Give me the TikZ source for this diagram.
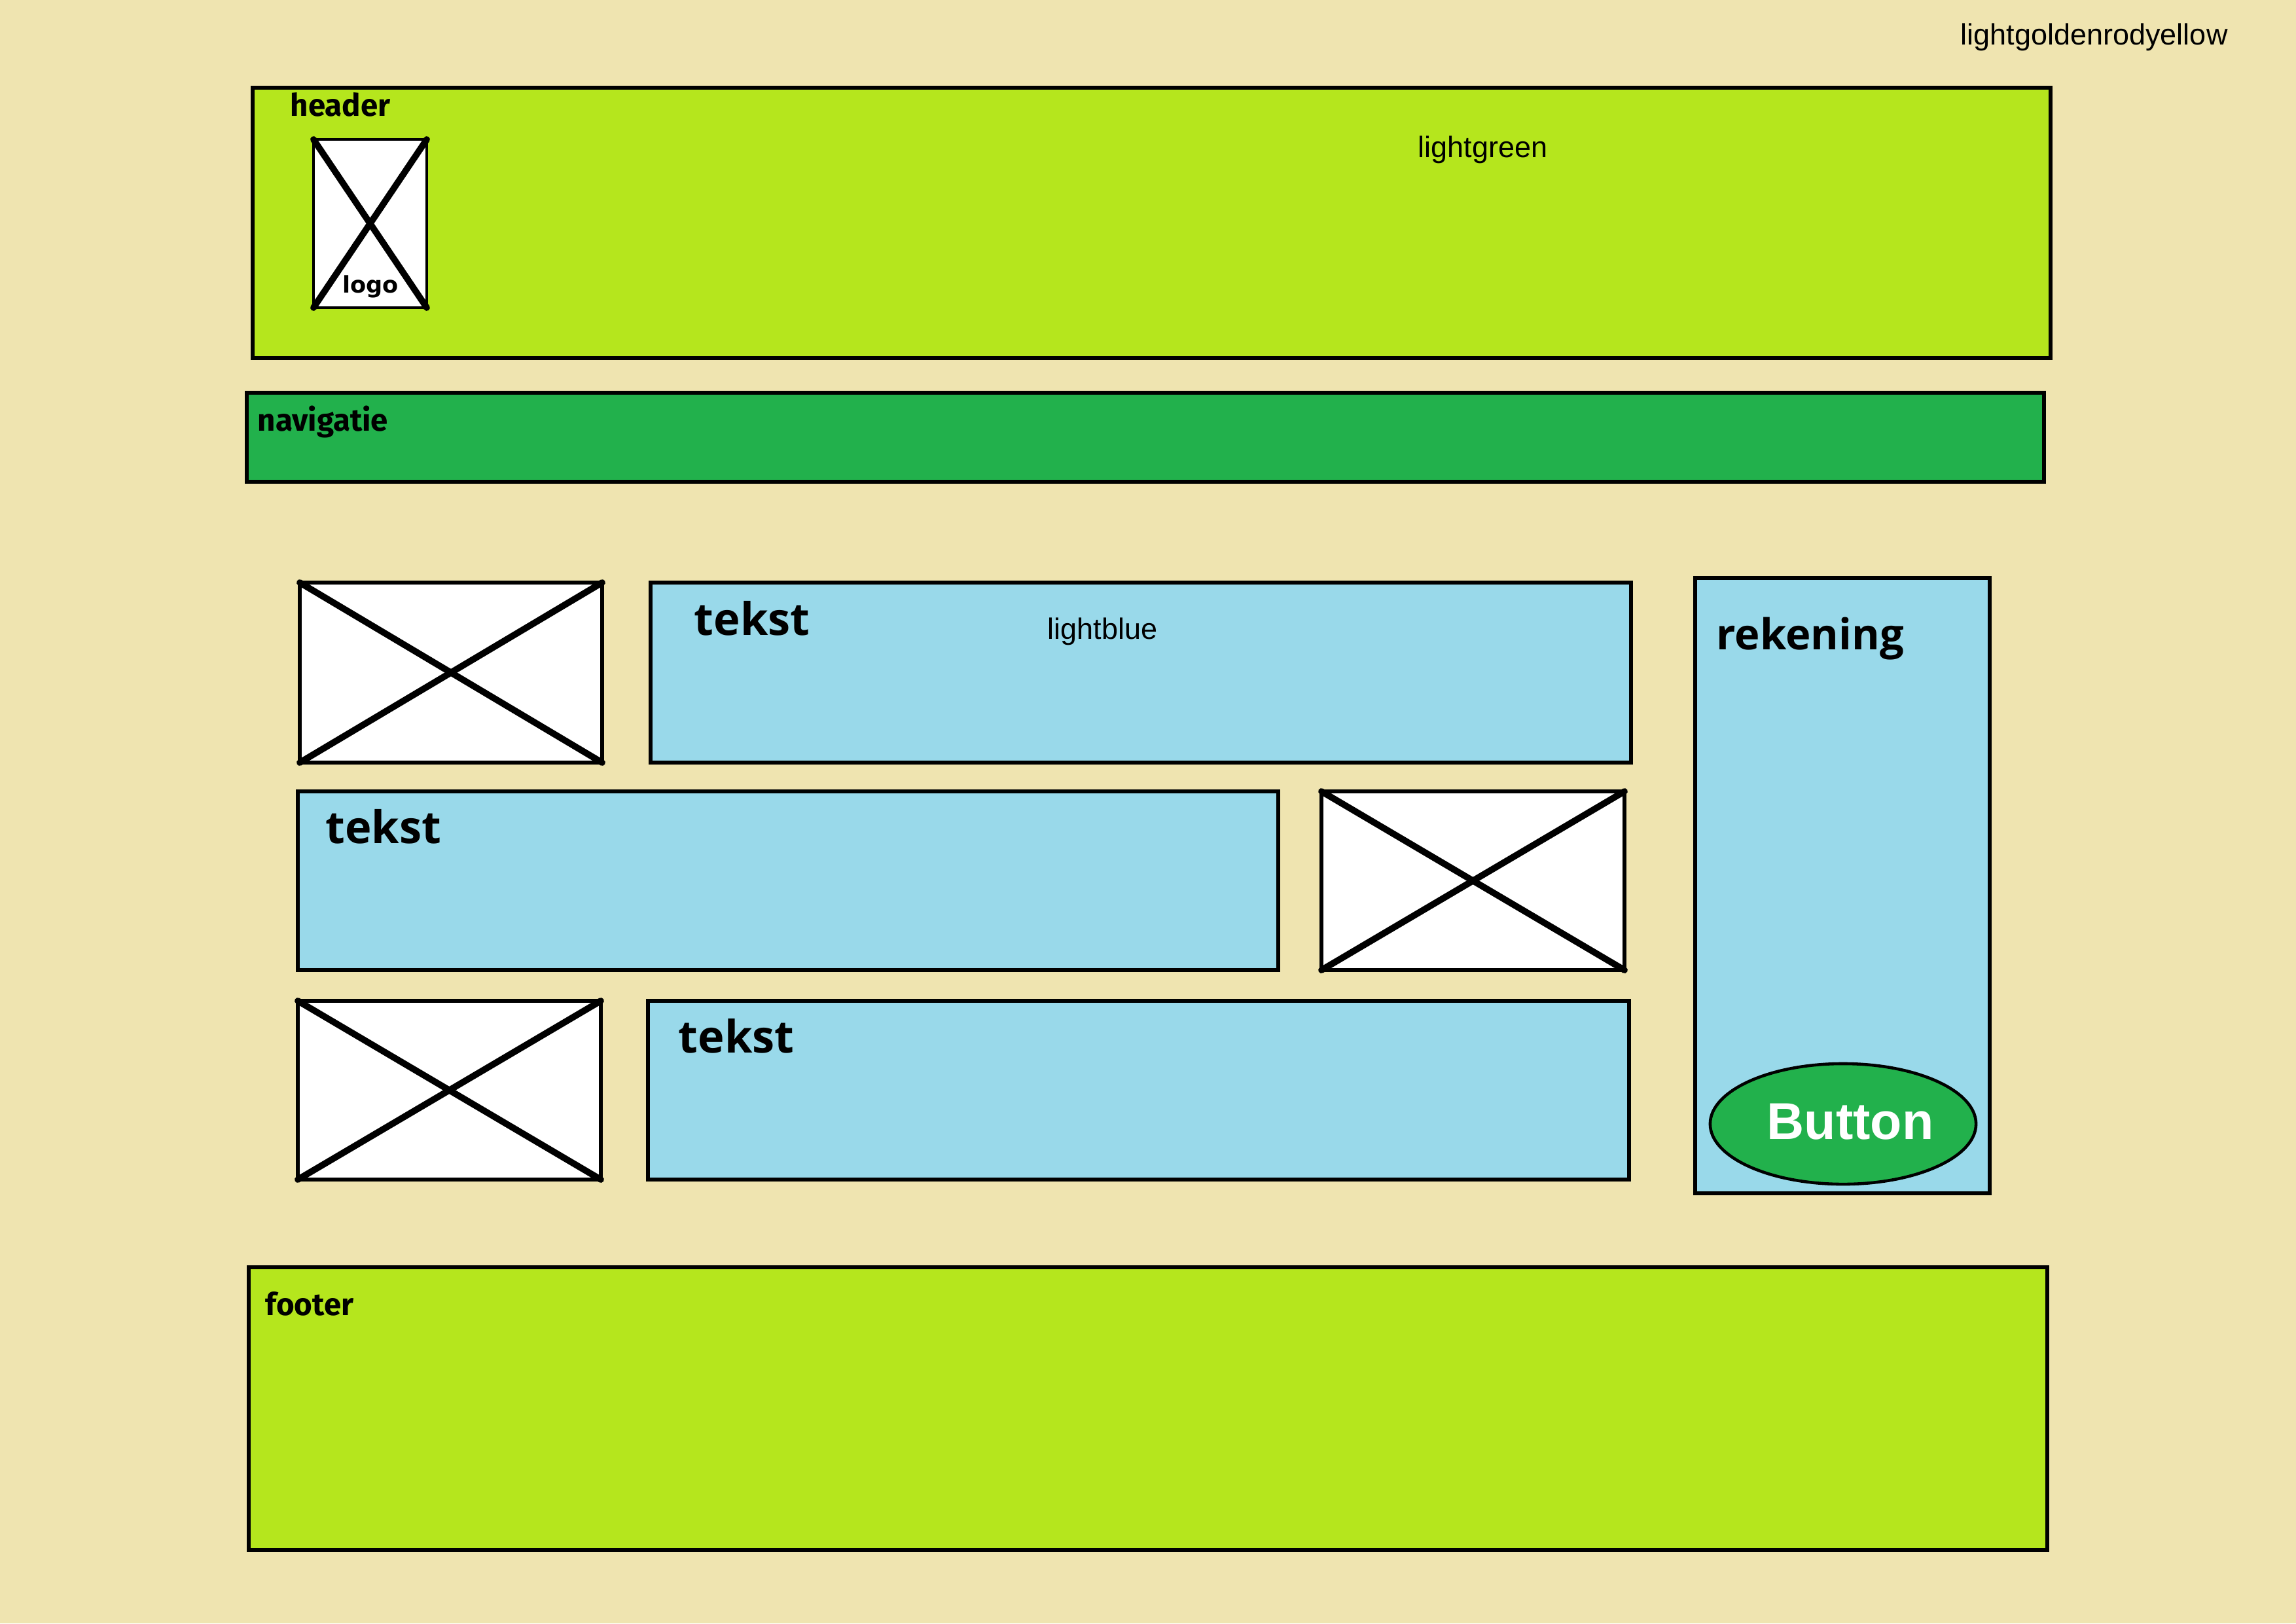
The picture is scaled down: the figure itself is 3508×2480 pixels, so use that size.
\documentclass[tikz,border=0pt]{standalone}
\usepackage{fontspec}
\setmainfont{Liberation Sans}
\newfontfamily\labfont{Fira Sans}
\newfontfamily\bigfont{Open Sans}
\newfontfamily\logofont{DejaVu Sans}
\usetikzlibrary{fit,shapes.geometric}
\definecolor{bg}{HTML}{EFE4B0}
\definecolor{lgreen}{HTML}{B5E61D}
\definecolor{dgreen}{HTML}{22B14C}
\definecolor{lblue}{HTML}{99D9EA}
\tikzset{
  area/.style={draw=black, line width=1.7pt, inner sep=0pt, outer sep=0pt},
  imgbox/.style={draw=black, fill=white, line width=1.6pt, inner sep=0pt, outer sep=0pt},
  cross/.style={line width=2.8pt, line cap=round},
  seclabel/.style={anchor=base west, inner sep=0pt, font=\labfont\bfseries\fontsize{13.5}{16}\selectfont},
  bigtext/.style={anchor=base west, inner sep=0pt, font=\bigfont\bfseries\fontsize{19.5}{23}\selectfont},
  colname/.style={anchor=base west, inner sep=0pt, font=\fontsize{12.8}{15}\selectfont},
}
\begin{document}
\begin{tikzpicture}[x=0.01cm,y=-0.01cm]
\path[fill=bg] (0,0) rectangle (3508,2480);
\useasboundingbox (0,0) rectangle (3508,2480);

% header
\node[area, fill=lgreen, fit={(386,134) (3133,547)}] (header) {};
\node[seclabel] (headerlbl) at (443,177) {header};
\node[imgbox, line width=1.2pt, fit={(479,213) (652,470)}] (logo) {};
\draw[cross] (logo.north west) -- (logo.south east);
\draw[cross] (logo.south west) -- (logo.north east);
\node[anchor=base, inner sep=0pt, font=\logofont\bfseries\fontsize{10}{12}\selectfont] (logolbl) at (566,447) {logo};
\node[colname] (greenlbl) at (2166,240) {lightgreen};

% navigation
\node[area, fill=dgreen, fit={(377,600) (3123,736)}] (nav) {};
\node[seclabel] (navlbl) at (393,658) {navigatie};

% row 1
\node[imgbox, fit={(458,890) (920,1165)}] (img1) {};
\draw[cross] (img1.north west) -- (img1.south east);
\draw[cross] (img1.south west) -- (img1.north east);
\node[area, fill=lblue, fit={(994,890) (2492,1165)}] (text1) {};
\node[bigtext] (t1lbl) at (1060,970) {tekst};
\node[colname] (bluelbl) at (1600,976) {lightblue};

% rekening
\node[area, fill=lblue, fit={(2590,883) (3040,1823)}] (rek) {};
\node[bigtext, font=\bigfont\bfseries\fontsize{18.5}{22}\selectfont] (reklbl) at (2622,992) {rekening};
\node[ellipse, draw=black, line width=1.3pt, fill=dgreen, minimum width=4.06cm, minimum height=1.84cm, inner sep=0pt] (button) at (2816,1717) {};
\node[anchor=base, inner sep=0pt, text=white, font=\bfseries\fontsize{22.5}{26}\selectfont] (buttonlbl) at (2827,1740) {Button};

% row 2
\node[area, fill=lblue, fit={(455,1209) (1953,1482)}] (text2) {};
\node[bigtext] (t2lbl) at (497,1288) {tekst};
\node[imgbox, fit={(2019,1209) (2482,1482)}] (img2) {};
\draw[cross] (img2.north west) -- (img2.south east);
\draw[cross] (img2.south west) -- (img2.north east);

% row 3
\node[imgbox, fit={(455,1529) (918,1802)}] (img3) {};
\draw[cross] (img3.north west) -- (img3.south east);
\draw[cross] (img3.south west) -- (img3.north east);
\node[area, fill=lblue, fit={(990,1529) (2489,1802)}] (text3) {};
\node[bigtext] (t3lbl) at (1036,1608) {tekst};

% footer
\node[area, fill=lgreen, fit={(380,1936) (3128,2368)}] (footer) {};
\node[seclabel] (footerlbl) at (405,2009) {footer};

\node[colname] (bglbl) at (2995,68) {lightgoldenrodyellow};
\end{tikzpicture}
\end{document}
